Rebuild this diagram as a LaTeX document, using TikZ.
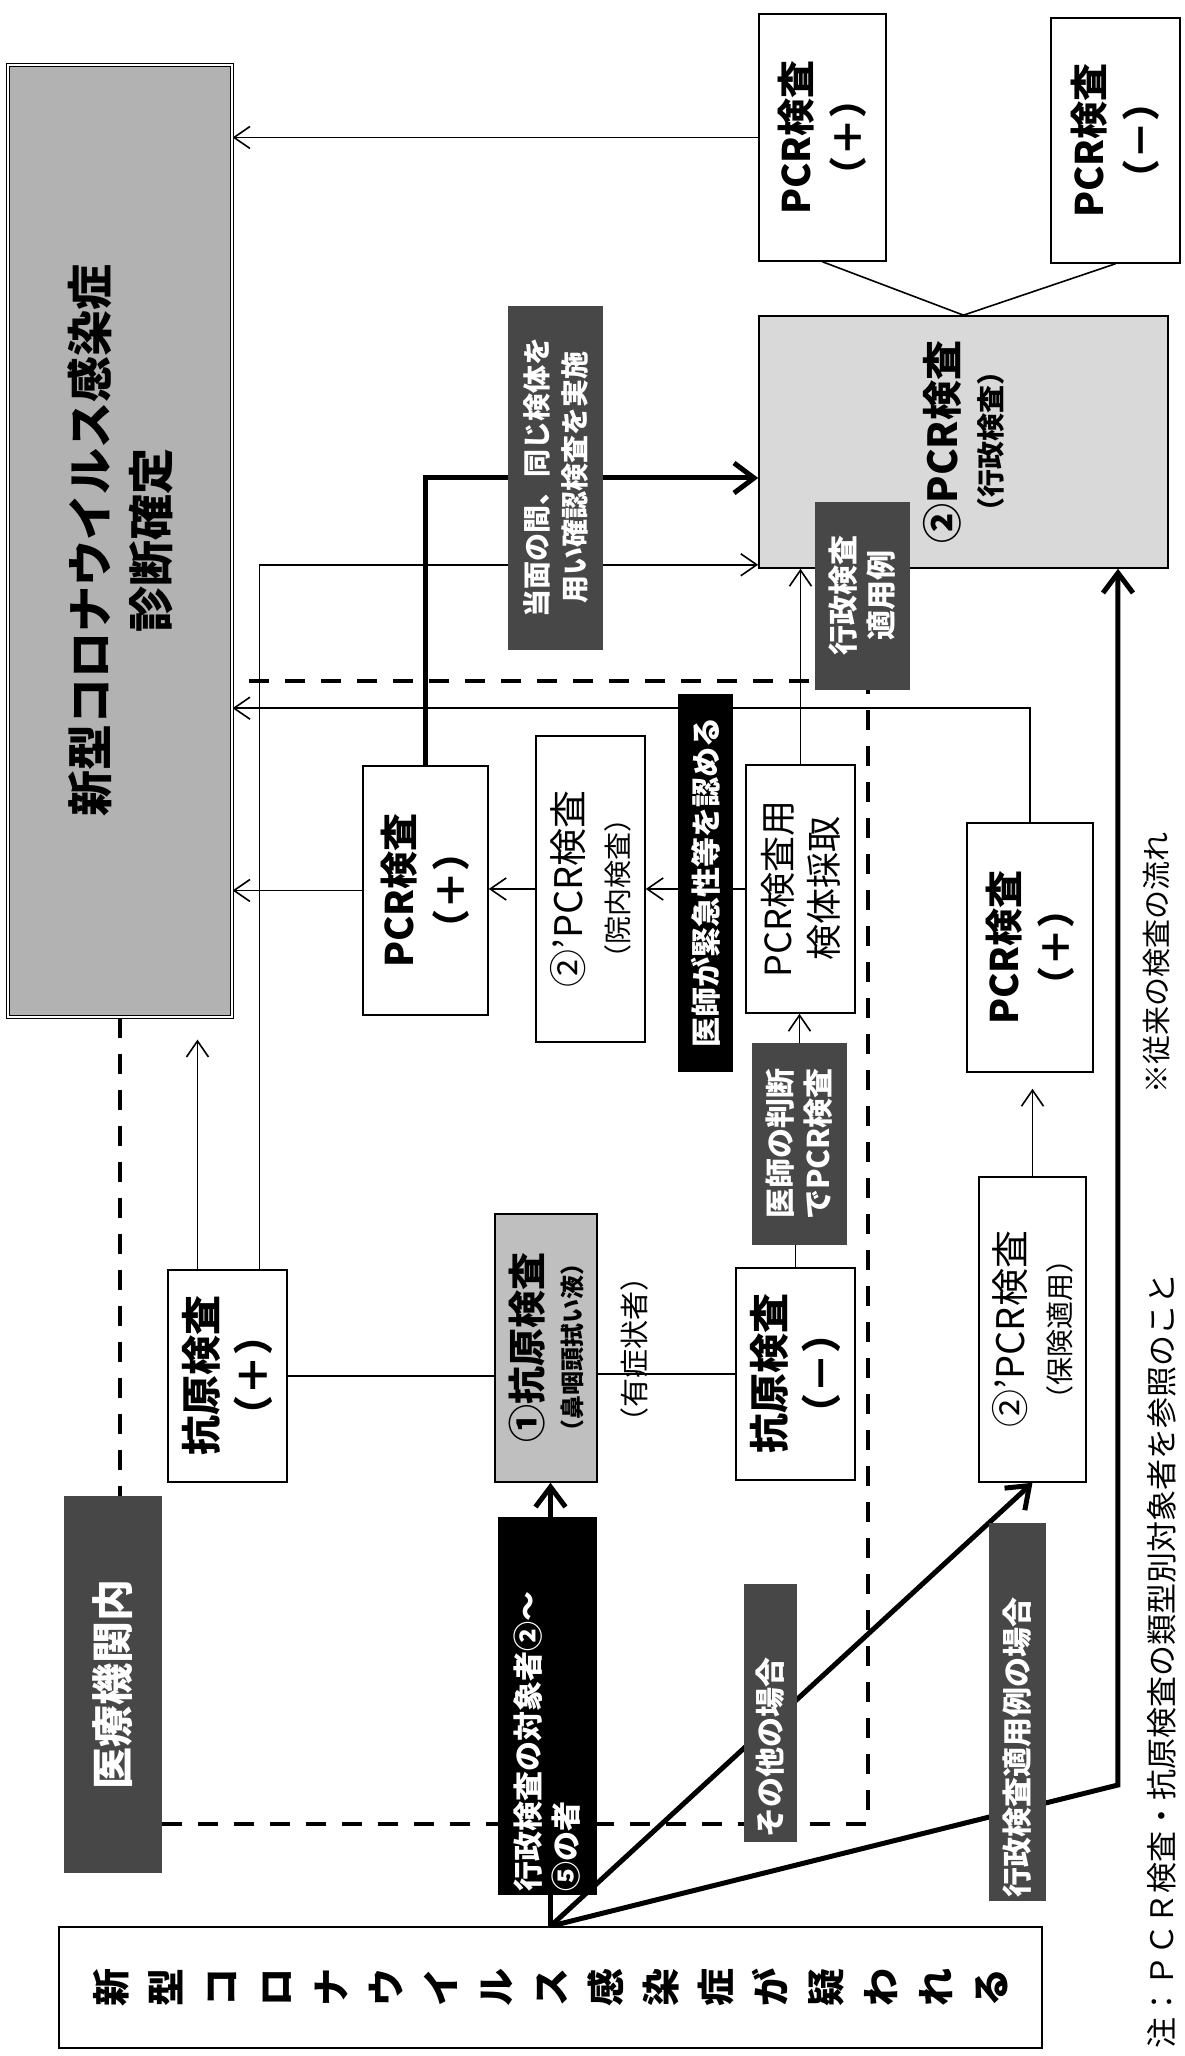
\documentclass[tikz,border=0pt]{standalone}
\usepackage{fontspec}
\setmainfont{Noto Sans CJK JP}
\usetikzlibrary{arrows.meta,positioning,backgrounds}
\newcommand{\smallnote}[1]{{\fontsize{14}{16}\selectfont #1}}
\tikzset{
    %Define standard arrow tip
    >={Straight Barb[length=8pt,width=11pt]},
    %Define style for boxes
    result/.style={
           draw=black, line width=0.8pt,
           fill=white,
           align=center,
           inner sep=1pt,
           font=\bfseries\fontsize{19}{26}\selectfont},
    plainbox/.style={
           result,
           font=\fontsize{19}{23}\selectfont},
    darktag/.style={
           fill=black!72,
           text=white,
           align=center,
           inner sep=2pt,
           font=\bfseries\fontsize{15}{19}\selectfont},
    blacktag/.style={darktag, fill=black},
    % Define arrow style
    pil/.style={->, line width=0.8pt},
    link/.style={line width=0.8pt},
    bigpil/.style={-{Straight Barb[length=10pt,width=15pt]}, line width=2.5pt},
    region/.style={line width=2.2pt, dash pattern=on 10pt off 8pt}
}

\begin{document}
\begin{tikzpicture}[x=0.5pt,y=0.5pt,rotate=90,transform shape]
\useasboundingbox (0,0) rectangle (2056,1184);

% boxes
\node[result, double, line width=0.6pt, double distance=1.2pt, fill=black!30, minimum width=476pt, minimum height=112pt, font=\bfseries\fontsize{23}{30.5}\selectfont] (diag) at (1515,1064) {新型コロナウイルス感染症\\診断確定};
\node[result, minimum width=123.5pt, minimum height=63.5pt] (pcrpos) at (1918.5,361.5) {PCR検査\\（＋）};
\node[result, minimum width=122.5pt, minimum height=64.5pt] (pcrneg) at (1915.5,68.5) {PCR検査\\（－）};
\node[result, fill=black!15, minimum width=126pt, minimum height=204.5pt, font=\bfseries\fontsize{20}{22}\selectfont] (admin) at (1614,220.5) {②PCR検査\\\smallnote{（行政検査）}};
\node[result, minimum width=124.5pt, minimum height=62.5pt] (pcrmid) at (1165.5,758.5) {PCR検査\\（＋）};
\node[plainbox, minimum width=153pt, minimum height=54.5pt] (inhouse) at (1167,593.5) {②’PCR検査\\\smallnote{（院内検査）}};
\node[plainbox, minimum width=124pt, minimum height=54.5pt, font=\fontsize{18}{23}\selectfont] (sample) at (1167,383.5) {PCR検査用\\検体採取};
\node[result, minimum width=124.5pt, minimum height=63pt] (pcrlow) at (1108.5,154) {PCR検査\\（＋）};
\node[result, minimum width=106pt, minimum height=59.5pt, font=\bfseries\fontsize{20}{26}\selectfont] (antipos) at (680,956.5) {抗原検査\\（＋）};
\node[result, fill=black!25, minimum width=134pt, minimum height=51pt, font=\bfseries\fontsize{19}{20}\selectfont] (antigen) at (708,638) {①抗原検査\\{\fontsize{12}{13}\selectfont（鼻咽頭拭い液）}};
\node[result, minimum width=106pt, minimum height=59.5pt, font=\bfseries\fontsize{20}{26}\selectfont] (antineg) at (682,388.5) {抗原検査\\（－）};
\node[plainbox, minimum width=152.5pt, minimum height=53.5pt] (insur) at (726.5,151.5) {②’PCR検査\\\smallnote{（保険適用）}};
\node[result, minimum width=60.5pt, minimum height=491.5pt, font=\bfseries\fontsize{19}{27.5}\selectfont] (start) at (68.5,633.5) {新\\型\\コ\\ロ\\ナ\\ウ\\イ\\ル\\ス\\感\\染\\症\\が\\疑\\わ\\れ\\る};
\node[font=\fontsize{14.5}{16}\selectfont] (symp) at (706,550) {（有症状者）};

% labels
\node[darktag, minimum width=172pt, minimum height=47.5pt, font=\bfseries\fontsize{14}{19}\selectfont] (confirm) at (1578,628.5) {当面の間、同じ検体を\\用い確認検査を実施};
\node[blacktag, minimum width=189pt, minimum height=27.5pt] (urgent) at (1173,478.5) {医師が緊急性等を認める};
\node[darktag, minimum width=94pt, minimum height=47.5pt] (adminok) at (1460,321.5) {行政検査\\適用例};
\node[darktag, minimum width=101pt, minimum height=47.5pt] (judge) at (912,384.5) {医師の判断\\でPCR検査};
\node[darktag, minimum width=188.5pt, minimum height=49pt, font=\bfseries\fontsize{21}{24}\selectfont] (medical) at (371.5,1071) {医療機関内};
\node[blacktag, minimum height=49.5pt, text width=185pt, align=left] (target) at (349.5,636.5) {行政検査の対象者②～\\⑤の者};
\node[darktag, minimum height=26.5pt, text width=125pt, align=left] (other) at (343,413.5) {その他の場合};
\node[darktag, minimum height=28.5pt, text width=185pt, align=left] (adminwide) at (343.5,166.5) {行政検査適用例の場合};

% notes
\node[anchor=west, font=\fontsize{15.5}{18}\selectfont] (note) at (0,22) {注：ＰＣＲ検査・抗原検査の類型別対象者を参照のこと};
\node[font=\fontsize{14.5}{17}\selectfont] (flow) at (1092.5,27) {※従来の検査の流れ};

\begin{pgfonlayer}{background}
% region of the medical institution
\coordinate (rbl) at (232,316);
\coordinate (rbr) at (1375,316);
\draw[region] (diag.west) -- (diag.west -| medical.east);
\draw[region] (medical.south -| rbl) -- (rbl) -- (rbr) -- (rbr |- diag.south);
% results
\draw[pil] (pcrpos.north) -- (pcrpos.north |- diag.south);
\draw[pil] (pcrmid.north) -- (pcrmid.north |- diag.south);
\draw[pil] (inhouse.north) -- (inhouse.north |- pcrmid.south);
\draw[pil] (sample.north) -- (sample.north |- inhouse.south);
\draw[pil] (pcrlow.east) -- ++(114,0) coordinate (lowturn) -- (lowturn |- diag.south);
\draw[link] (pcrpos.west) -- (admin.east) -- (pcrneg.west);
\draw[bigpil] (pcrmid.east) -- (pcrmid.east -| confirm.center) -- (confirm.center |- admin.north);
% antigen test
\coordinate (ag1) at ([yshift=15pt]antipos.east);
\coordinate (ag2) at ([yshift=-16pt]antipos.east);
\draw[pil, shorten >=11pt] (ag1) -- (ag1 -| diag.west);
\draw[pil] (ag2) -| ([xshift=2pt]admin.north west);
\draw[link] (antipos.south) -- (antipos.south |- antigen.north);
\draw[link] (antineg.north) -- (antineg.north |- antigen.south);
\draw[link] (antineg.east) -- (antineg.east -| judge.west);
\draw[pil] (judge.east) -- (judge.east -| sample.west);
\draw[pil] (sample.east) -- (sample.east -| admin.west);
\draw[pil, shorten >=8pt] (insur.east) -- (insur.east -| pcrlow.west);
% from the start box
\coordinate (bend) at (271,66);
\draw[bigpil] (start.east) -- (start.east -| antigen.west);
\draw[bigpil] (start.east) -- (insur.west);
\draw[bigpil] (start.east) -- (bend) -- (bend -| admin.west);
\end{pgfonlayer}
\end{tikzpicture}
\end{document}
